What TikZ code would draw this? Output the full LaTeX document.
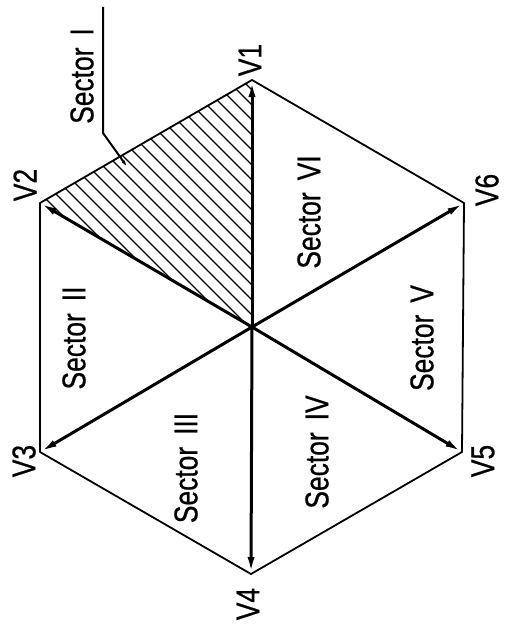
\documentclass[tikz,border=0pt]{standalone}
\usepackage{fontspec}
\setmainfont{Liberation Sans}[FakeStretch=0.8, FakeBold=0.6]
\usetikzlibrary{arrows.meta}
\newcommand\sectorfont{\fontsize{33}{33}\selectfont\spaceskip=12pt plus 0pt\relax}
\tikzset{
  hexline/.style={line width=1.8pt, line join=round},
  spoke/.style={line width=3pt, -{Latex[length=17pt,width=7pt]}},
  hatch/.style={line width=1.3pt},
  leader/.style={line width=2pt, -{Latex[length=8pt,width=3.5pt]}},
  lbl/.style={rotate=90, inner sep=0pt, font=\sectorfont},
}

\begin{document}
\begin{tikzpicture}[x=1pt, y=-1pt]
  \useasboundingbox (0,0) rectangle (528,626);
  % corners of the hexagon
  \coordinate (O)  at (252,327);
  \coordinate (v1) at (252,80);
  \coordinate (v2) at (40,203);
  \coordinate (v3) at (40,452);
  \coordinate (v4) at (251,574);
  \coordinate (v5) at (462,452);
  \coordinate (v6) at (464,203);
  % hatching of sector I
  \begin{scope}
    \clip (O) -- (v1) -- (v2) -- cycle;
    \foreach \k in {-168,-153,...,172}
      \draw[hatch] (\k,0) ++(-300,-300) -- ++(800,800);
  \end{scope}
  \draw[hexline] (v1) -- (v2) -- (v3) -- (v4) -- (v5) -- (v6) -- cycle;
  \foreach \i in {1,...,6}
    \draw[spoke] (O) -- (v\i);
  % vector names
  \node[lbl] (lv1) at (250,60)  {V1};
  \node[lbl] (lv2) at (25,185)  {V2};
  \node[lbl] (lv3) at (24,461)  {V3};
  \node[lbl] (lv4) at (248,604) {V4};
  \node[lbl] (lv5) at (483,461) {V5};
  \node[lbl] (lv6) at (487,190) {V6};
  % sector names
  \node[lbl] (s1) at (82,76)   {Sector I};
  \node[lbl] (s2) at (74,338)  {Sector II};
  \node[lbl] (s3) at (186,468) {Sector III};
  \node[lbl] (s4) at (317,452) {Sector IV};
  \node[lbl] (s5) at (422,338) {Sector V};
  \node[lbl] (s6) at (309,212) {Sector VI};
  % leader to sector I
  \coordinate (ltop)  at (103,7);
  \coordinate (lknee) at (103,133);
  \coordinate (lend)  at (128,168);
  \draw[leader] (ltop) -- (lknee) -- (lend);
\end{tikzpicture}
\end{document}
